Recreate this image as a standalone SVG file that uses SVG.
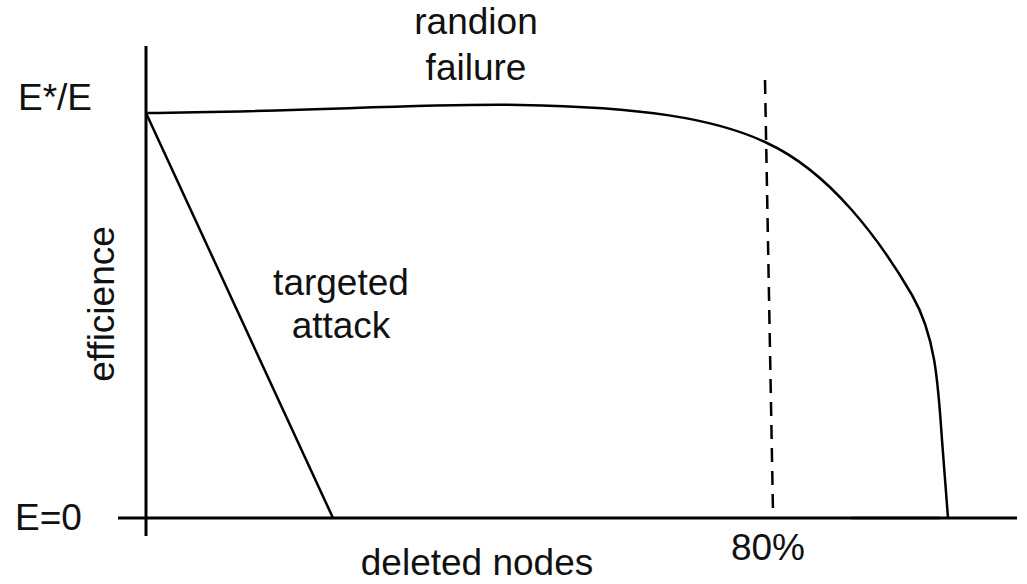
<svg xmlns="http://www.w3.org/2000/svg" width="1027" height="584" viewBox="0 0 1027 584">
<style>
text{font-family:"Liberation Sans",Arial,sans-serif;font-size:37px;fill:#111}
.ax{stroke:#000;stroke-width:3;fill:none}
.cv{stroke:#000;stroke-width:2.5;fill:none}
</style>
<rect width="1027" height="584" fill="#fff"/>
<g id="connectors">
<line class="ax" x1="146" y1="46" x2="146" y2="536"/>
<line class="ax" x1="118" y1="518" x2="1017" y2="518"/>
<path id="targeted-attack-line" class="cv" d="M146,113 L333,518"/>
<path id="random-failure-curve" class="cv" d="M146,113 C300,112 430,103 520,105 C640,107 715,118 767,143 C830,172 880,240 912,295 C935,335 938,380 942,440 L948,518"/>
<path class="cv" d="M851,518 L940,518" stroke-width="4"/>
<line class="cv" x1="765" y1="80" x2="773" y2="512" stroke-dasharray="14,9"/>
</g>
<g id="label-random"><text x="476" y="34" text-anchor="middle">randion</text><text x="476" y="80" text-anchor="middle">failure</text></g>
<g id="label-estar"><text x="18" y="110">E*/E</text></g>
<g id="label-e0"><text x="15" y="530">E=0</text></g>
<g id="label-eff"><text transform="translate(114,304) rotate(-90)" text-anchor="middle">efficience</text></g>
<g id="label-targeted"><text x="341" y="295" text-anchor="middle">targeted</text><text x="341" y="338" text-anchor="middle">attack</text></g>
<g id="label-deleted"><text x="477" y="575" text-anchor="middle">deleted nodes</text></g>
<g id="label-80"><text x="768" y="560" text-anchor="middle">80%</text></g>
</svg>
